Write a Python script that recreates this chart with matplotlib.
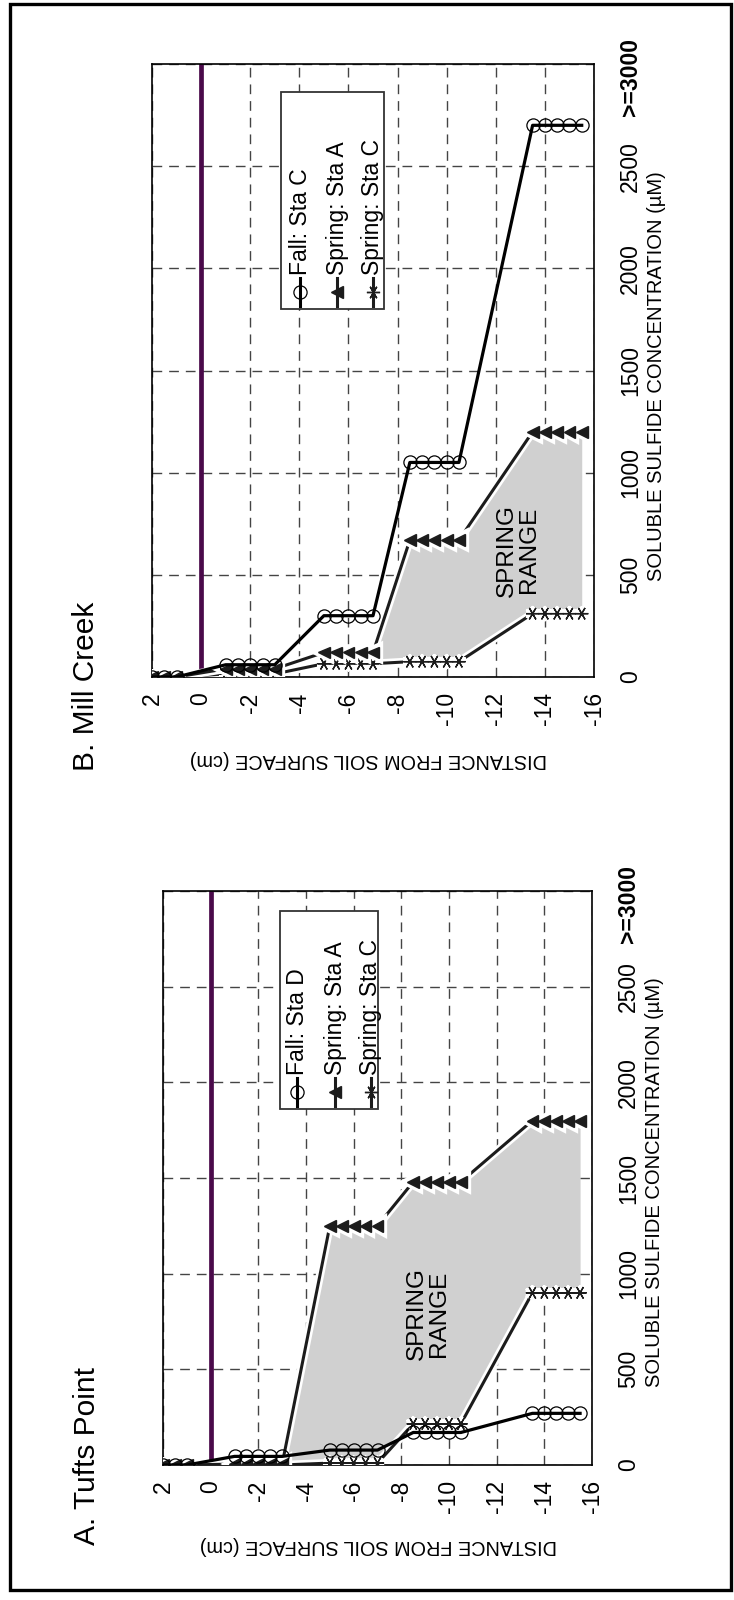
import matplotlib
matplotlib.use('Agg')
import matplotlib.pyplot as plt
from matplotlib.patches import Rectangle
from matplotlib.lines import Line2D
import matplotlib.patheffects as pe
import matplotlib.transforms as mtransforms

plt.rcParams['font.family'] = ['Liberation Sans', 'DejaVu Sans']

# ---------------- data ----------------
depth = [2, 1.5, 1, -1, -1.5, -2, -2.5, -3, -5, -5.5, -6, -6.5, -7,
         -8.5, -9, -9.5, -10, -10.5, -13.5, -14, -14.5, -15, -15.5]

# A. Tufts Point
tufts_fall_D = [0, 0, 0, 45, 45, 45, 45, 45, 78, 78, 78, 78, 78,
                170, 170, 170, 170, 170, 270, 270, 270, 270, 270]
tufts_spring_A = [0, 0, 0, 5, 5, 5, 5, 5, 1250, 1250, 1250, 1250, 1250,
                  1480, 1480, 1480, 1480, 1480, 1800, 1800, 1800, 1800, 1800]
tufts_spring_C = [0, 0, 0, 0, 0, 0, 0, 0, 10, 10, 10, 10, 10,
                  215, 215, 215, 215, 215, 900, 900, 900, 900, 900]

# B. Mill Creek
mill_fall_C = [0, 0, 0, 60, 60, 60, 60, 60, 300, 300, 300, 300, 300,
               1050, 1050, 1050, 1050, 1050, 2700, 2700, 2700, 2700, 2700]
mill_spring_A = [0, 0, 0, 40, 40, 40, 40, 40, 120, 120, 120, 120, 120,
                 670, 670, 670, 670, 670, 1200, 1200, 1200, 1200, 1200]
mill_spring_C = [0, 0, 0, 15, 15, 15, 15, 15, 65, 65, 65, 65, 65,
                 75, 75, 75, 75, 75, 310, 310, 310, 310, 310]

conc_ticks = [0, 500, 1000, 1500, 2000, 2500, 3000]
conc_ticklabels = ['0', '500', '1000', '1500', '2000', '2500', '>=3000']
depth_ticks = [2, 0, -2, -4, -6, -8, -10, -12, -14, -16]
depth_ticklabels = ['2', '0', '-2', '-4', '-6', '-8', '-10', '-12', '-14', '-16']

titles = ['A. Tufts Point', 'B. Mill Creek']
legend_labels_A = ['Fall: Sta D', 'Spring: Sta A', 'Spring: Sta C']
legend_labels_B = ['Fall: Sta C', 'Spring: Sta A', 'Spring: Sta C']
xlabel = 'SOLUBLE SULFIDE CONCENTRATION (\u00b5M)'
ylabel = 'DISTANCE FROM SOIL SURFACE (cm)'

# ---------------- layout ----------------
W, H = 734, 1600
fig = plt.figure(figsize=(W / 100, H / 100), dpi=100)


def fx(px):
    return px / W


def fy(py):
    return 1 - py / H


def axes_at(x0, y0, x1, y1):
    return fig.add_axes([fx(x0), fy(y1), (x1 - x0) / W, (y1 - y0) / H])


LINE_DARK = '#1c1c1c'
white_edge = [pe.Stroke(linewidth=6, foreground='white'), pe.Normal()]


def draw_panel(ax, fall, springA, springC, labels, fill_start, range_xy,
               box, entry_x, handle_y, text_y):
    ax.set_xlim(2, -16)
    ax.set_ylim(0, 3000)
    ax.set_xticks(depth_ticks)
    ax.set_xticklabels(depth_ticklabels, rotation=90)
    ax.set_yticks(conc_ticks)
    ax.set_yticklabels(conc_ticklabels, rotation=90, va='center')
    ax.yaxis.tick_right()
    ax.tick_params(axis='x', length=0, pad=11, labelsize=16.5)
    ax.tick_params(axis='y', length=0, pad=18, labelsize=16.5)
    top_lab = ax.get_yticklabels()[-1]
    top_lab.set_fontweight('bold')
    top_lab.set_transform(top_lab.get_transform() +
                          mtransforms.ScaledTranslation(0, -0.13, fig.dpi_scale_trans))
    ax.set_axisbelow(True)
    ax.grid(True, linestyle=(0, (7, 5)), color='#444444', lw=1.0)
    for s in ax.spines.values():
        s.set_linewidth(1.2)
        s.set_color('black')

    i0 = depth.index(fill_start)
    ax.fill_between(depth[i0:], springC[i0:], springA[i0:],
                    color='#d0d0d0', lw=0, zorder=1.5)
    ax.axvline(0, ymin=0.01, ymax=1, color='#4a0a4a', lw=3.4, zorder=2.5)

    ax.plot(depth, springC, color=LINE_DARK, lw=2.2, marker=(6, 2, 90),
            ms=9.5, mew=1.0, zorder=3, path_effects=white_edge)
    ax.plot(depth, springA, color=LINE_DARK, lw=2.2, marker='<',
            ms=8.5, mfc=LINE_DARK, mec=LINE_DARK, zorder=3.2,
            path_effects=white_edge)
    ax.plot(depth, fall, color='black', lw=2.3, marker='o', ms=9.5,
            mfc='none', mec='black', mew=0.9, zorder=4)

    ax.text(range_xy[0], range_xy[1], 'SPRING\nRANGE', rotation=90,
            ha='center', va='center', fontsize=17.5, linespacing=1.0,
            zorder=4.5)

    # legend (rotated layout)
    bx0, by0, bx1, by1 = box
    ax.add_patch(Rectangle((bx0, by0), bx1 - bx0, by1 - by0,
                           transform=ax.transAxes, facecolor='white',
                           edgecolor='#333333', lw=1.3, zorder=5))
    styles = [dict(color='black', marker='o', ms=9.5, mfc='none', mec='black', mew=0.9),
              dict(color=LINE_DARK, marker='<', ms=8.5, mfc=LINE_DARK, mec=LINE_DARK),
              dict(color=LINE_DARK, marker=(6, 2, 90), ms=9.5, mew=1.0)]
    hy0, hy1 = handle_y
    for x, lab, st in zip(entry_x, labels, styles):
        ax.add_line(Line2D([x, x], [hy0, hy1], transform=ax.transAxes,
                           color=st['color'], lw=2.2, zorder=6))
        mst = dict(st)
        mst.pop('color')
        ax.add_line(Line2D([x], [(hy0 + hy1) / 2], transform=ax.transAxes,
                           color=st['color'], lw=0, zorder=6.5, **mst))
        ax.text(x, text_y, lab, rotation=90, ha='center', va='bottom',
                transform=ax.transAxes, fontsize=16.5, zorder=7)


# Panel B (top in rotated view)
axB = axes_at(152, 64, 594, 677)
draw_panel(axB, mill_fall_C, mill_spring_A, mill_spring_C, legend_labels_B,
           -7, (-12.9, 620),
           (0.292, 0.600, 0.525, 0.954), [0.335, 0.419, 0.500],
           (0.605, 0.651), 0.656)

# Panel A (bottom in rotated view)
axA = axes_at(163, 891, 592, 1465)
draw_panel(axA, tufts_fall_D, tufts_spring_A, tufts_spring_C, legend_labels_A,
           -3, (-9.1, 790),
           (0.272, 0.621, 0.502, 0.965), [0.313, 0.401, 0.484],
           (0.625, 0.674), 0.679)

# axis labels and titles
fig.text(fx(656), fy(376), xlabel, rotation=90, ha='center', va='center', fontsize=14.5)
fig.text(fx(655), fy(1182), xlabel, rotation=90, ha='center', va='center', fontsize=14.5)
fig.text(fx(368), fy(760), ylabel, rotation=180, ha='center', va='center', fontsize=14.3)
fig.text(fx(378), fy(1545), ylabel, rotation=180, ha='center', va='center', fontsize=14.3)
fig.text(fx(86), fy(686), titles[1], rotation=90, ha='center', va='center', fontsize=21.5)
fig.text(fx(87), fy(1456), titles[0], rotation=90, ha='center', va='center', fontsize=21.5)

# outer frame
fig.patches.append(Rectangle((fx(10), fy(1590)), (731 - 10) / W, (1590 - 4) / H,
                             transform=fig.transFigure, fill=False,
                             edgecolor='black', lw=2.4))

fig.savefig('out.png', dpi=100)
